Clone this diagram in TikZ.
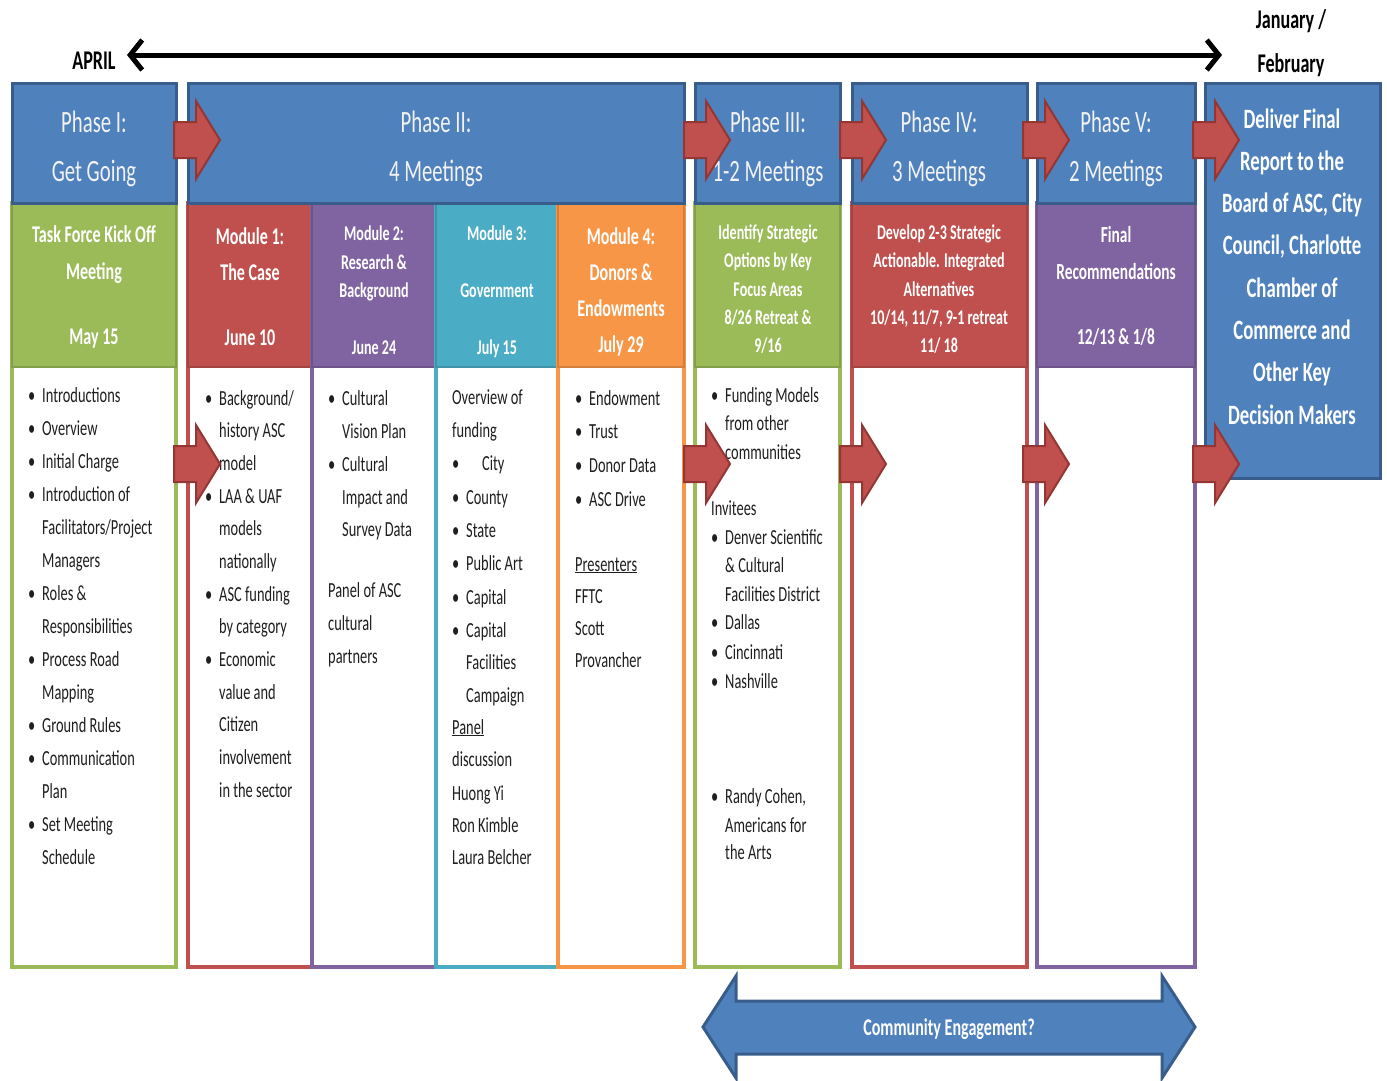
\documentclass[tikz,border=0pt]{standalone}
\usepackage{fontspec}
\setmainfont{Carlito}[FakeStretch=0.67]
\usetikzlibrary{arrows.meta}

\definecolor{ofblue}{HTML}{4F81BD}
\definecolor{blueedge}{HTML}{385D8A}
\definecolor{ofred}{HTML}{C0504D}
\definecolor{rededge}{HTML}{943634}
\definecolor{ofgreen}{HTML}{9BBB59}
\definecolor{ofpurple}{HTML}{8064A2}
\definecolor{ofteal}{HTML}{4BACC6}
\definecolor{oforange}{HTML}{F79646}
\definecolor{txtgrey}{HTML}{1F1F1F}
\definecolor{hwhite}{HTML}{F2F2F2}

\newcommand\bul{\makebox[14pt][l]{\textbullet}}
\newcommand\indt{\hspace*{14pt}}
\newcommand\redarrow[2]{%
  \filldraw[redarr] (#1,#2) ++(0,-18) -- ++(22,0) -- ++(0,-21) -- ++(24,39)
    -- ++(-24,39) -- ++(0,-21) -- ++(-22,0) -- cycle;}

\tikzset{
  colbox/.style={anchor=north west, inner sep=0pt, outer sep=0pt},
  hdrbox/.style={colbox, fill=ofblue, draw=blueedge, line width=3pt},
  subbox/.style={colbox, fill=#1, draw=#1!85!black, line width=2pt},
  bodybox/.style={colbox, fill=white, draw=#1, line width=4pt},
  redarr/.style={fill=ofred, draw=rededge, line width=2pt},
  htext/.style={anchor=base, text=hwhite, font=\fontsize{31}{31}\selectfont},
  stext/.style={anchor=base, text=white, font=\bfseries\fontsize{#1}{#1}\selectfont},
  stext/.default=24,
  btext/.style={anchor=base west, text=txtgrey, font=\fontsize{21.5}{21.5}\selectfont},
  ttext/.style={anchor=base, font=\bfseries\fontsize{27}{27}\selectfont}
}

\begin{document}
\begin{tikzpicture}[x=1pt, y=-1pt, inner sep=0pt]
\useasboundingbox (0,0) rectangle (1387,1080);

% time line
\coordinate (apr) at (127,55);
\coordinate (jan) at (1222,55);
\draw[<->, >={Straight Barb[length=12pt,width=30pt]}, line width=5pt] (apr) -- (jan);
\node[ttext] (april) at (94,69) {APRIL};
\node[ttext] (janfeb1) at (1291,28) {January /};
\node[ttext] (janfeb2) at (1291,72) {February};

% columns
\node[bodybox=ofgreen, minimum width=164pt, minimum height=764pt] (b1) at (12,203) {};
\node[subbox=ofgreen, minimum width=164pt, minimum height=164pt] (s1) at (12,203) {};
\node[hdrbox, minimum width=164pt, minimum height=120pt] (h1) at (12,83) {};

\node[bodybox=ofred, minimum width=124pt, minimum height=764pt] (bm1) at (188,203) {};
\node[subbox=ofred, minimum width=124pt, minimum height=164pt] (sm1) at (188,203) {};
\node[bodybox=ofpurple, minimum width=124pt, minimum height=764pt] (bm2) at (312,203) {};
\node[subbox=ofpurple, minimum width=124pt, minimum height=164pt] (sm2) at (312,203) {};
\node[bodybox=ofteal, minimum width=122pt, minimum height=764pt] (bm3) at (436,203) {};
\node[subbox=ofteal, minimum width=122pt, minimum height=164pt] (sm3) at (436,203) {};
\node[bodybox=oforange, minimum width=126pt, minimum height=764pt] (bm4) at (558,203) {};
\node[subbox=oforange, minimum width=126pt, minimum height=164pt] (sm4) at (558,203) {};
\node[hdrbox, minimum width=496pt, minimum height=120pt] (h2) at (188,83) {};

\node[bodybox=ofgreen, minimum width=145pt, minimum height=764pt] (b3) at (695,203) {};
\node[subbox=ofgreen, minimum width=145pt, minimum height=164pt] (s3) at (695,203) {};
\node[hdrbox, minimum width=145pt, minimum height=120pt] (h3) at (695,83) {};

\node[bodybox=ofred, minimum width=175pt, minimum height=764pt] (b4) at (852,203) {};
\node[subbox=ofred, minimum width=175pt, minimum height=164pt] (s4) at (852,203) {};
\node[hdrbox, minimum width=175pt, minimum height=120pt] (h4) at (852,83) {};

\node[bodybox=ofpurple, minimum width=158pt, minimum height=764pt] (b5) at (1037,203) {};
\node[subbox=ofpurple, minimum width=158pt, minimum height=164pt] (s5) at (1037,203) {};
\node[hdrbox, minimum width=158pt, minimum height=120pt] (h5) at (1037,83) {};

\node[hdrbox, minimum width=175pt, minimum height=395pt] (fin) at (1205,83) {};

% header texts
\foreach \x/\a/\b in {94/Phase I:/Get Going, 436/Phase II:/4 Meetings,
    768/Phase III:/1-2 Meetings, 939/Phase IV:/3 Meetings, 1116/Phase V:/2 Meetings} {
  \node[htext] (ha-\x) at (\x,132) {\a};
  \node[htext] (hb-\x) at (\x,181) {\b};
}

% sub header texts
\foreach \y/\t in {242/Task Force Kick Off, 279/Meeting, 344/May 15}
  \node[stext] (s1-\y) at (94,\y) {\t};
\foreach \y/\t in {244/Module 1:, 280/The Case, 345/June 10}
  \node[stext] (sm1-\y) at (250,\y) {\t};
\foreach \y/\t in {240/Module 2:, 269/{Research \&}, 297/Background, 354/June 24}
  \node[stext=21] (sm2-\y) at (374,\y) {\t};
\foreach \y/\t in {240/Module 3:, 297/Government, 354/July 15}
  \node[stext=21] (sm3-\y) at (497,\y) {\t};
\foreach \y/\t in {244/Module 4:, 280/{Donors \&}, 316/Endowments, 352/July 29}
  \node[stext] (sm4-\y) at (621,\y) {\t};
\foreach \y/\t in {239/Identify Strategic, 267/Options by Key, 296/Focus Areas,
    324/{8/26 Retreat \&}, 352/{9/16}}
  \node[stext=21] (s3-\y) at (768,\y) {\t};
\foreach \y/\t in {239/Develop 2-3 Strategic, 267/Actionable. Integrated, 296/Alternatives,
    324/{10/14, 11/7, 9-1 retreat}, 352/{11/ 18}}
  \node[stext=21] (s4-\y) at (939,\y) {\t};
\foreach \y/\t in {242/Final, 279/Recommendations, 344/{12/13 \& 1/8}}
  \node[stext=23] (s5-\y) at (1116,\y) {\t};

% final box
\foreach \t [count=\i from 0] in {Deliver Final, Report to the, {Board of ASC, City},
    {Council, Charlotte}, Chamber of, Commerce and, Other Key, Decision Makers}
  \node[stext=28] (fin-\i) at (1292,{128+42.3*\i}) {\t};

% body texts
\foreach \t [count=\i from 0] in {\bul Introductions, \bul Overview, \bul Initial Charge,
    \bul Introduction of, \indt Facilitators/Project, \indt Managers, \bul Roles \&,
    \indt Responsibilities, \bul Process Road, \indt Mapping, \bul Ground Rules,
    \bul Communication, \indt Plan, \bul Set Meeting, \indt Schedule}
  \node[btext] (t1-\i) at (28,{402+33.07*\i}) {\t};
\foreach \t [count=\i from 0] in {\bul Background/, \indt history ASC, \indt model,
    \bul LAA \& UAF, \indt models, \indt nationally, \bul ASC funding, \indt by category,
    \bul Economic, \indt value and, \indt Citizen, \indt involvement, \indt in the sector}
  \node[btext] (tm1-\i) at (205,{405+32.67*\i}) {\t};
\foreach \y/\t in {405/\bul Cultural, 438/\indt Vision Plan, 471/\bul Cultural,
    504/\indt Impact and, 536/\indt Survey Data, 597/Panel of ASC, 630/cultural, 663/partners}
  \node[btext] (tm2-\y) at (328,\y) {\t};
\foreach \y/\t in {404/Overview of, 437/funding, 470/\bul\hspace*{16pt}City, 504/\bul County,
    537/\bul State, 570/\bul Public Art, 604/\bul Capital, 637/\bul Capital,
    669/\indt Facilities, 702/\indt Campaign, 734/\underline{Panel}, 766/discussion,
    800/Huong Yi, 832/Ron Kimble, 864/Laura Belcher}
  \node[btext] (tm3-\y) at (452,\y) {\t};
\foreach \y/\t in {405/\bul Endowment, 438/\bul Trust, 472/\bul Donor Data, 506/\bul ASC Drive,
    571/\underline{Presenters}, 603/FFTC, 635/Scott, 667/Provancher}
  \node[btext] (tm4-\y) at (575,\y) {\t};
\foreach \y/\t in {402/\bul Funding Models, 430/\indt from other, 459/\indt communities,
    515/Invitees, 544/\bul Denver Scientific, 572/\indt \& Cultural,
    601/\indt Facilities District, 629/\bul Dallas, 659/\bul Cincinnati, 688/\bul Nashville,
    803/{\bul Randy Cohen,}, 832/\indt Americans for, 859/\indt the Arts}
  \node[btext] (t3-\y) at (711,\y) {\t};

% red block arrows
\foreach \x in {174,684,840,1023,1193} {
  \redarrow{\x}{140}
  \redarrow{\x}{464}
}

% community engagement
\filldraw[fill=ofblue, draw=blueedge, line width=3pt] (703,1027) -- (736,976) -- (736,1001)
  -- (1162,1001) -- (1162,976) -- (1195,1027) -- (1162,1078) -- (1162,1054) -- (736,1054)
  -- (736,1078) -- cycle;
\node[stext=24] (ce) at (949,1035) {Community Engagement?};
\end{tikzpicture}
\end{document}
